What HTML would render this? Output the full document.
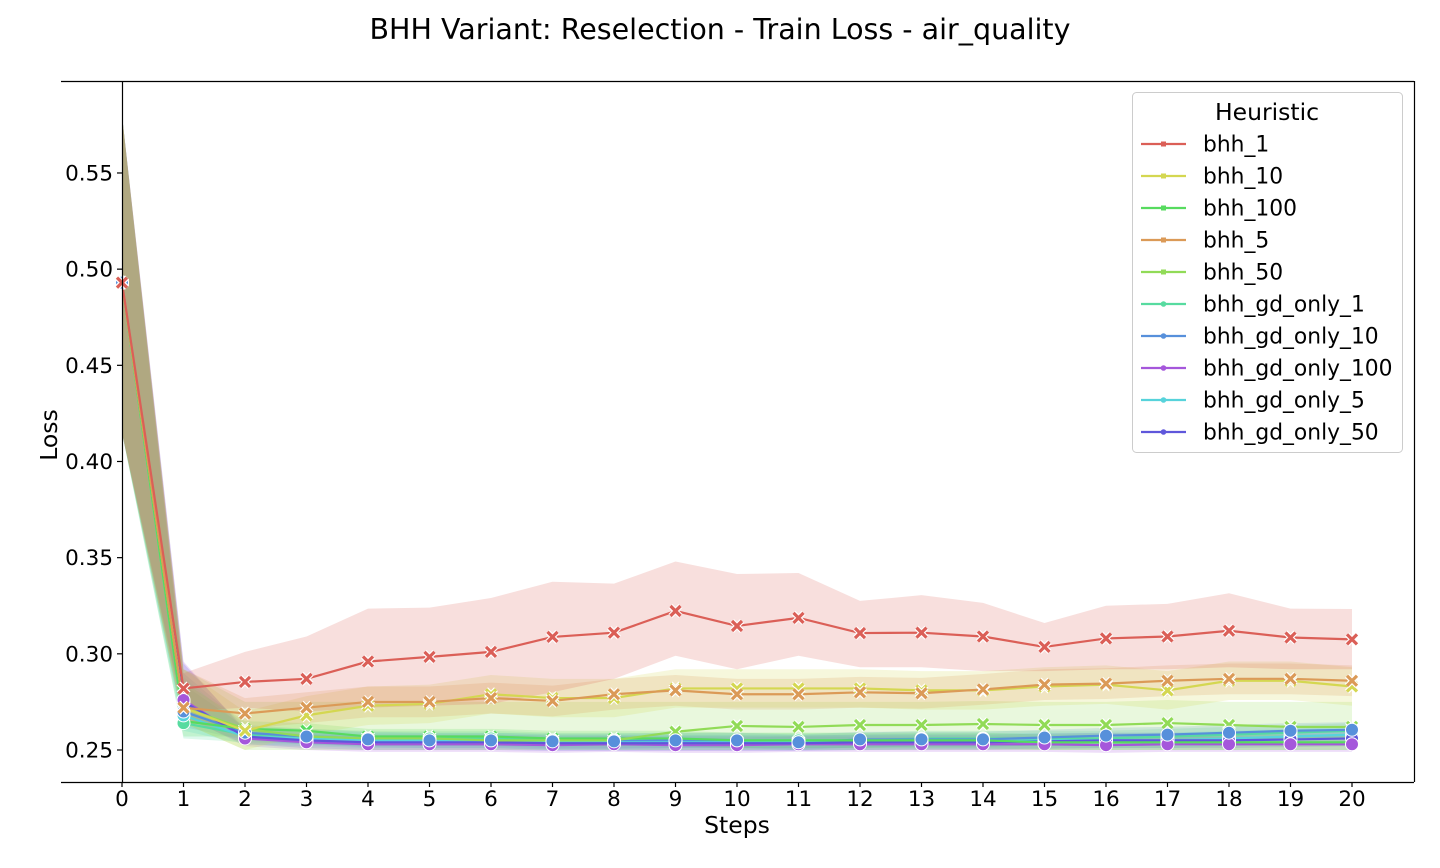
<!DOCTYPE html>
<html><head><meta charset="utf-8"><style>
body{margin:0;background:#fff;font-family:"DejaVu Sans","Liberation Sans",sans-serif}
svg text{font-family:"DejaVu Sans","Liberation Sans",sans-serif}
</style></head><body>
<svg id="chart" width="1440" height="864" xmlns="http://www.w3.org/2000/svg">
<text x="720" y="39" font-size="28.5" text-anchor="middle">BHH Variant: Reselection - Train Loss - air_quality</text>
<g id="bands"></g><g id="lines"></g><g id="marks"></g>
<g id="axes">
<line x1="61" y1="81.5" x2="1414" y2="81.5" stroke="#000" stroke-width="1.2"/>
<line x1="61" y1="782.5" x2="1414" y2="782.5" stroke="#000" stroke-width="1.2"/>
<line x1="1414.5" y1="81" x2="1414.5" y2="782" stroke="#000" stroke-width="1.2"/>
<line x1="122.5" y1="81" x2="122.5" y2="782" stroke="#000" stroke-width="1.2"/>
</g>
<g id="ticks"></g>
<text x="737" y="833" font-size="23.5" text-anchor="middle">Steps</text>
<text x="0" y="0" font-size="23.5" text-anchor="middle" transform="translate(57,435) rotate(-90)">Loss</text>
<g id="legend"></g>
</svg>
<script>
const steps=[0,1,2,3,4,5,6,7,8,9,10,11,12,13,14,15,16,17,18,19,20];
const yTicks=[0.25,0.30,0.35,0.40,0.45,0.50,0.55];
const names=["bhh_1","bhh_10","bhh_100","bhh_5","bhh_50","bhh_gd_only_1","bhh_gd_only_10","bhh_gd_only_100","bhh_gd_only_5","bhh_gd_only_50"];
const colors=["#db5f57","#d4d751","#57db5f","#db9a57","#91db57","#57dba0","#5790db","#a557db","#57d3db","#5f57db"];
const s_bhh_1=[0.493,0.282,0.2854,0.287,0.296,0.2984,0.301,0.3088,0.311,0.3223,0.3145,0.3187,0.3108,0.311,0.309,0.3036,0.308,0.309,0.312,0.3085,0.3075];
const hi_bhh_1=[0.58,0.290,0.301,0.309,0.3235,0.324,0.329,0.3375,0.3365,0.348,0.3415,0.342,0.3275,0.3305,0.3265,0.316,0.325,0.326,0.3315,0.3235,0.3233];
const lo_bhh_1=[0.415,0.270,0.272,0.270,0.272,0.273,0.274,0.280,0.287,0.299,0.292,0.299,0.293,0.293,0.291,0.291,0.292,0.292,0.293,0.292,0.292];
const s_bhh_10=[0.493,0.272,0.260,0.268,0.273,0.274,0.279,0.277,0.277,0.282,0.282,0.282,0.282,0.281,0.281,0.283,0.284,0.281,0.286,0.286,0.283];
const s_bhh_100=[0.493,0.265,0.261,0.260,0.257,0.257,0.257,0.256,0.256,0.256,0.255,0.255,0.255,0.255,0.255,0.254,0.254,0.254,0.254,0.254,0.254];
const s_bhh_5=[0.493,0.272,0.269,0.272,0.275,0.275,0.277,0.2755,0.279,0.281,0.279,0.279,0.280,0.2795,0.2815,0.284,0.2845,0.286,0.287,0.287,0.286];
const s_bhh_50=[0.493,0.272,0.261,0.257,0.256,0.256,0.255,0.255,0.255,0.2595,0.2625,0.262,0.263,0.263,0.2635,0.263,0.263,0.264,0.263,0.262,0.262];
const s_gd1=[0.493,0.264,0.258,0.257,0.256,0.256,0.256,0.255,0.255,0.255,0.255,0.255,0.255,0.256,0.256,0.256,0.256,0.257,0.258,0.259,0.260];
const s_gd10=[0.493,0.270,0.259,0.257,0.2555,0.255,0.255,0.2545,0.2545,0.255,0.255,0.254,0.2555,0.2555,0.2555,0.2565,0.2575,0.258,0.259,0.260,0.2605];
const s_gd100=[0.493,0.276,0.256,0.254,0.253,0.253,0.253,0.2525,0.253,0.2525,0.2525,0.253,0.253,0.253,0.253,0.253,0.2525,0.253,0.253,0.253,0.253];
const s_gd5=[0.493,0.268,0.257,0.256,0.255,0.255,0.255,0.254,0.254,0.254,0.254,0.254,0.254,0.2545,0.2545,0.255,0.255,0.255,0.256,0.257,0.258];
const s_gd50=[0.493,0.275,0.257,0.255,0.254,0.254,0.254,0.2535,0.2535,0.2535,0.2535,0.2535,0.254,0.254,0.254,0.2545,0.255,0.255,0.255,0.2555,0.256];
const band_widths=[null,0.010,0.004,0.008,0.012,0.004,0.004,0.004,0.004,0.004];
const series=[s_bhh_1,s_bhh_10,s_bhh_100,s_bhh_5,s_bhh_50,s_gd1,s_gd10,s_gd100,s_gd5,s_gd50];
const drawOrder=[5,6,7,8,9,2,4,1,3,0];
const markerOrder=[2,4,5,8,9,7,6,1,3,0];
const NS="http://www.w3.org/2000/svg";
function X(v){return 122+v*61.5;}
function Y(v){return 750-(v-0.25)*1923.4;}
function mk(tag,attrs,parent){const e=document.createElementNS(NS,tag);for(const k in attrs)e.setAttribute(k,attrs[k]);parent.appendChild(e);return e;}
const gB=document.getElementById('bands'),gL=document.getElementById('lines'),gM=document.getElementById('marks'),gT=document.getElementById('ticks'),gLeg=document.getElementById('legend');
function bandPath(hi,lo){let d='M'+steps.map((s,i)=>X(s)+','+Y(hi[i])).join('L');for(let i=steps.length-1;i>=0;i--)d+='L'+X(steps[i])+','+Y(lo[i]);return d+'Z';}
drawOrder.forEach(k=>{
  const s=series[k];
  let hi,lo;
  if(k===0){hi=hi_bhh_1;lo=lo_bhh_1;}
  else{const w=band_widths[k];hi=s.map((v,i)=>i===0?0.58:(i===1?v+0.02:(k===4?Math.max(v+0.012,0.275):v+w)));lo=s.map((v,i)=>i===0?0.415:(i===1?v-0.008:(k===4?0.250:v-w)));}
  const p=mk('path',{d:bandPath(hi,lo),fill:colors[k],'fill-opacity':0.2,stroke:'none'},gB);
  
  
});
drawOrder.forEach(k=>{
  const s=series[k];
  const l=mk('polyline',{points:steps.map((st,i)=>X(st)+','+Y(s[i])).join(' '),fill:'none',stroke:colors[k],'stroke-width':2.2},gL);
  
  
});
markerOrder.forEach(k=>{
  const s=series[k];
  const g=mk('g',{},gM);
  
  
  steps.forEach((st,i)=>{
    const x=X(st),y=Y(s[i]);
    if(k<5){
      mk('path',{d:`M${x-5},${y-5}L${x+5},${y+5}M${x+5},${y-5}L${x-5},${y+5}`,stroke:'#fff','stroke-width':5.5},g);
      mk('path',{d:`M${x-5},${y-5}L${x+5},${y+5}M${x+5},${y-5}L${x-5},${y+5}`,stroke:colors[k],'stroke-width':3.2},g);
    }else{
      mk('circle',{cx:x,cy:y,r:6.5,fill:colors[k],stroke:'#fff','stroke-width':1},g);
    }
  });
});
yTicks.forEach(t=>{
  const y=Y(t);
  mk('line',{x1:117,y1:y,x2:122,y2:y,stroke:'#000','stroke-width':1.2},gT);
  const tx=mk('text',{x:113,y:y+7.5,'font-size':21.5,'text-anchor':'end'},gT);
  tx.textContent=t.toFixed(2);
  
  
});
steps.forEach(s=>{
  const x=X(s);
  mk('line',{x1:x,y1:782,x2:x,y2:787,stroke:'#000','stroke-width':1.2},gT);
  const tx=mk('text',{x:x,y:806,'font-size':21.5,'text-anchor':'middle'},gT);
  tx.textContent=s;
  
  
});
mk('rect',{x:1132.5,y:92.5,width:270,height:360,rx:4,fill:'#fff','fill-opacity':0.8,stroke:'#ccc'},gLeg);
const lt=mk('text',{x:1267,y:120,'font-size':23.5,'text-anchor':'middle'},gLeg);lt.textContent='Heuristic';
names.forEach((n,k)=>{
  const y=144+k*32;
  const e=mk('g',{},gLeg);
  
  
  mk('line',{x1:1141,y1:y,x2:1186,y2:y,stroke:colors[k],'stroke-width':2.2},e);
  if(k<5)mk('rect',{x:1161,y:y-2.5,width:5,height:5,fill:colors[k]},e);
  else mk('circle',{cx:1163.5,cy:y,r:2.8,fill:colors[k]},e);
  const t=mk('text',{x:1203,y:y+7.5,'font-size':21.8},e);t.textContent=n;
});
</script>
</body></html>
